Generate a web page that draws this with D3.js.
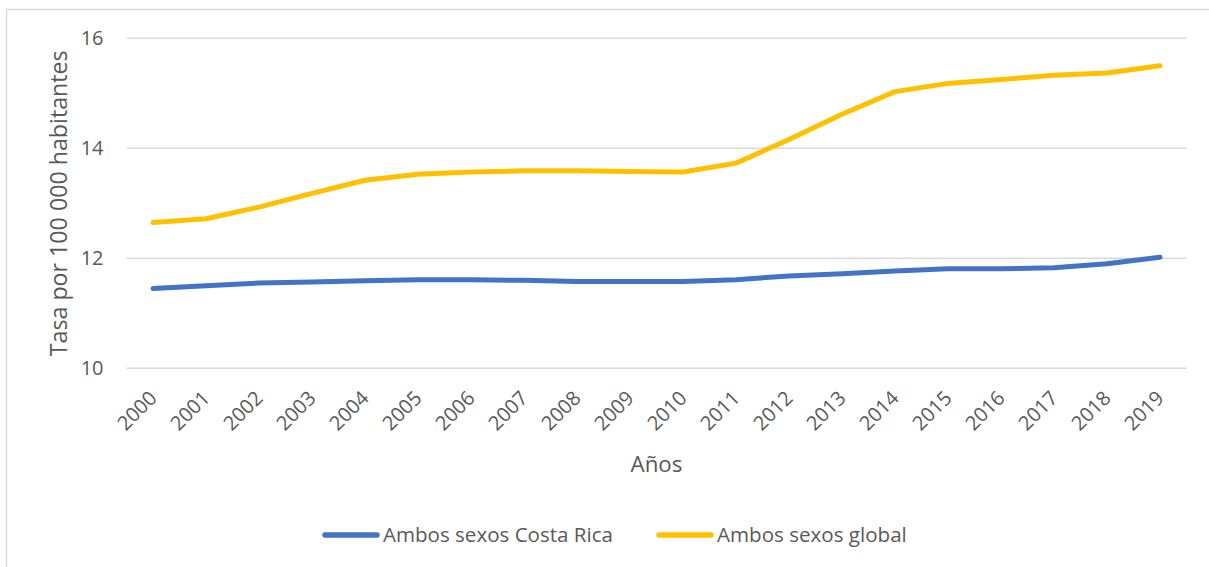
<!DOCTYPE html>
<html>
<head>
<meta charset="utf-8">
<script src="https://cdn.jsdelivr.net/npm/d3@7"></script>
<style>
  html, body { margin: 0; padding: 0; background: #fff; }
  svg { display: block; }
  text { font-family: "Open Sans", "Liberation Sans", sans-serif; fill: #595959; }
</style>
</head>
<body>
<svg id="chart" width="1209" height="567"></svg>
<script>
// Years on the category axis
const years = ["2000","2001","2002","2003","2004","2005","2006","2007","2008","2009",
               "2010","2011","2012","2013","2014","2015","2016","2017","2018","2019"];

// Rate per 100 000 inhabitants, both sexes
const costaRica = [11.45, 11.50, 11.55, 11.57, 11.59, 11.61, 11.61, 11.60, 11.58, 11.58,
                   11.58, 11.61, 11.68, 11.72, 11.77, 11.81, 11.81, 11.83, 11.90, 12.02];
const global    = [12.65, 12.72, 12.93, 13.18, 13.42, 13.53, 13.57, 13.59, 13.59, 13.58,
                   13.57, 13.73, 14.16, 14.62, 15.03, 15.18, 15.25, 15.33, 15.37, 15.50];

const yTicks = [10, 12, 14, 16];

const seriesNames = ["Ambos sexos Costa Rica", "Ambos sexos global"];
const seriesColors = ["#4472C4", "#FFC000"];
const seriesValues = [costaRica, global];

const yTitle = "Tasa por 100 000 habitantes";
const xTitle = "Años";

const FONT = '"Open Sans", "Liberation Sans", sans-serif';
const svg = d3.select("#chart");

// Chart frame
svg.append("rect")
  .attr("x", 6.5).attr("y", 9.5)
  .attr("width", 1220).attr("height", 600)
  .attr("fill", "#fff")
  .attr("stroke", "#D9D9D9").attr("stroke-width", 1.5);

const plot = { left: 126.5, right: 1186.5, top: 38.3, bottom: 368.3 };

const x = d3.scaleBand().domain(years).range([plot.left, plot.right]);
const y = d3.scaleLinear().domain([10, 16]).range([plot.bottom, plot.top]);

// Horizontal gridlines
svg.append("g")
  .selectAll("line")
  .data(yTicks)
  .join("line")
  .attr("x1", plot.left).attr("x2", plot.right)
  .attr("y1", d => y(d)).attr("y2", d => y(d))
  .attr("stroke", "#D9D9D9").attr("stroke-width", 1.5);

// Y axis labels
const yAxis = svg.append("g")
  .attr("transform", `translate(${plot.left - 23},0)`)
  .call(d3.axisLeft(y).tickValues(yTicks).tickFormat(d3.format("d")).tickSize(0).tickPadding(0));
yAxis.select(".domain").remove();
yAxis.selectAll("text")
  .attr("font-size", 20)
  .attr("fill", "#595959")
  .style("font-family", FONT);

// X axis labels, rotated
const xAxis = svg.append("g")
  .attr("transform", `translate(0,${plot.bottom})`)
  .call(d3.axisBottom(x).tickSize(0).tickPadding(0));
xAxis.select(".domain").remove();
xAxis.selectAll("text")
  .attr("font-size", 20)
  .attr("fill", "#595959")
  .style("font-family", FONT)
  .attr("text-anchor", "end")
  .attr("dy", "0")
  .attr("y", 0)
  .attr("transform", "translate(5,31) rotate(-45)");

// Size text so its rendered width matches the given length
function fitWidth(sel, width) {
  const w = sel.node().getComputedTextLength();
  const fs = parseFloat(sel.attr("font-size"));
  sel.attr("font-size", fs * width / w);
}

// Axis titles
const yt = svg.append("text")
  .attr("transform", `translate(67,${(plot.top + plot.bottom) / 2}) rotate(-90)`)
  .attr("text-anchor", "middle")
  .attr("font-size", 20)
  .text(yTitle);
fitWidth(yt, 306);

const xt = svg.append("text")
  .attr("x", (plot.left + plot.right) / 2)
  .attr("y", 472)
  .attr("text-anchor", "middle")
  .attr("font-size", 20)
  .text(xTitle);
fitWidth(xt, 52);

// Series lines
const line = d3.line()
  .x((d, i) => x(years[i]) + x.bandwidth() / 2)
  .y(d => y(d));

svg.append("g")
  .selectAll("path")
  .data(seriesValues)
  .join("path")
  .attr("d", d => line(d))
  .attr("fill", "none")
  .attr("stroke", (d, i) => seriesColors[i])
  .attr("stroke-width", 5)
  .attr("stroke-linecap", "round")
  .attr("stroke-linejoin", "round");

// Legend
const legendY = 535;
const legendStarts = [323, 657];
const legendTextWidths = [230, 190];
const legend = svg.append("g");
seriesNames.forEach((name, i) => {
  const g = legend.append("g").attr("transform", `translate(${legendStarts[i]},${legendY})`);
  g.append("line")
    .attr("x1", 2).attr("x2", 54).attr("y1", 0).attr("y2", 0)
    .attr("stroke", seriesColors[i]).attr("stroke-width", 5.5)
    .attr("stroke-linecap", "round");
  const t = g.append("text")
    .attr("x", 60).attr("y", 7)
    .attr("font-size", 18)
    .text(name);
  fitWidth(t, legendTextWidths[i]);
});
</script>
</body>
</html>
